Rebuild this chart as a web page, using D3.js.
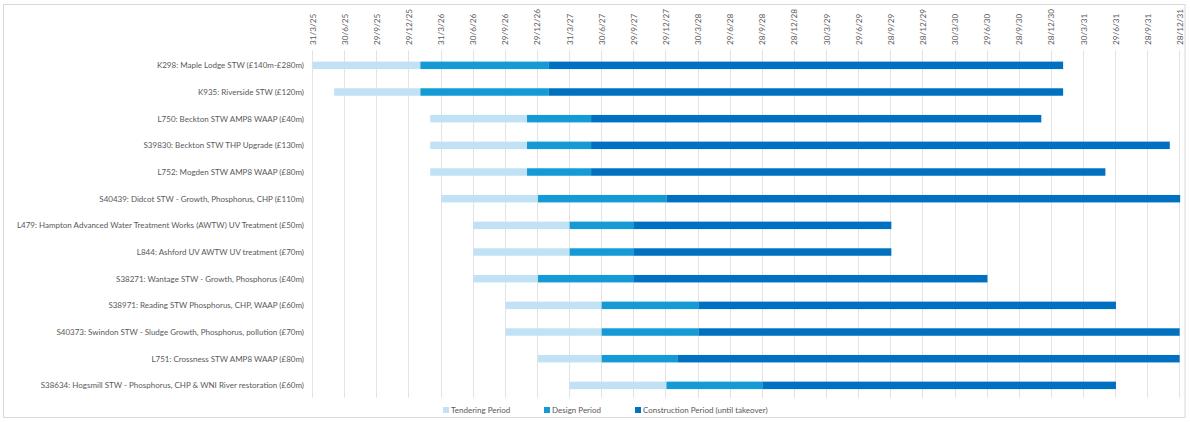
<!DOCTYPE html>
<html>
<head>
<meta charset="utf-8">
<script src="https://cdn.jsdelivr.net/npm/d3@7"></script>
<style>
  body { margin: 0; background: #fff; }
  text { font-family: Lato, "Open Sans", sans-serif; fill: #595959; }
</style>
</head>
<body>
<svg id="chart" width="1190" height="422"></svg>
<script>
// projects, top to bottom
var projects = [
  "K298: Maple Lodge STW (£140m-£280m)",
  "K935: Riverside STW (£120m)",
  "L750: Beckton STW AMP8 WAAP (£40m)",
  "S39830: Beckton STW THP Upgrade (£130m)",
  "L752: Mogden STW AMP8 WAAP (£80m)",
  "S40439: Didcot STW - Growth, Phosphorus, CHP (£110m)",
  "L479: Hampton Advanced Water Treatment Works (AWTW) UV Treatment (£50m)",
  "L844: Ashford UV  AWTW UV treatment (£70m)",
  "S38271: Wantage STW - Growth, Phosphorus (£40m)",
  "S38971: Reading STW Phosphorus, CHP, WAAP (£60m)",
  "S40373: Swindon STW - Sludge Growth, Phosphorus, pollution (£70m)",
  "L751: Crossness STW AMP8 WAAP (£80m)",
  "S38634: Hogsmill  STW - Phosphorus, CHP & WNI River restoration (£60m)"
];
var tenderStart = ["2025-04-01","2025-06-01","2026-03-01","2026-03-01","2026-03-01","2026-04-01","2026-07-01","2026-07-01","2026-07-01","2026-10-01","2026-10-01","2027-01-01","2027-04-01"];
var designStart = ["2026-02-01","2026-02-01","2026-12-01","2026-12-01","2026-12-01","2027-01-01","2027-04-01","2027-04-01","2027-01-01","2027-07-01","2027-07-01","2027-07-01","2028-01-01"];
var constructionStart = ["2027-02-01","2027-02-01","2027-06-01","2027-06-01","2027-06-01","2028-01-01","2027-10-01","2027-10-01","2027-10-01","2028-04-01","2028-04-01","2028-02-01","2028-10-01"];
var takeover = ["2031-02-01","2031-02-01","2030-12-01","2031-12-01","2031-06-01","2031-12-31","2029-10-01","2029-10-01","2030-07-01","2031-07-01","2031-12-29","2031-12-29","2031-07-01"];
var tickLabels = ["31/3/25","30/6/25","29/9/25","29/12/25","31/3/26","30/6/26","29/9/26","29/12/26",
  "31/3/27","30/6/27","29/9/27","29/12/27","30/3/28","29/6/28","28/9/28","28/12/28",
  "30/3/29","29/6/29","28/9/29","28/12/29","30/3/30","29/6/30","28/9/30","28/12/30",
  "30/3/31","29/6/31","28/9/31","28/12/31"];
var phases = ["Tendering Period", "Design Period", "Construction Period (until takeover)"];
var colors = ["#c1e2f5", "#149ad4", "#0070c0"];

var iso = d3.timeParse("%Y-%m-%d");
var dmy = d3.timeParse("%d/%m/%y");
var tickDates = tickLabels.map(dmy);

var svg = d3.select("#chart");

// chart border
svg.append("rect").attr("x", 3.5).attr("y", 4.5).attr("width", 1181.5).attr("height", 413)
  .attr("fill", "#fff").attr("stroke", "#d9d9d9");

var x = d3.scaleTime().domain([tickDates[0], tickDates[tickDates.length - 1]]).range([312.3, 1179.3]);
var y = d3.scaleBand().domain(projects).range([52, 398.7]).paddingInner(0.72).paddingOuter(0.36);

// gridlines
svg.append("g").selectAll("line").data(tickDates).enter().append("line")
  .attr("x1", function(d) { return Math.round(x(d)) + 0.5; })
  .attr("x2", function(d) { return Math.round(x(d)) + 0.5; })
  .attr("y1", 50).attr("y2", 398)
  .attr("stroke", "#e3e3e3").attr("stroke-width", 1);

// top tick labels
svg.append("g").selectAll("text").data(tickDates).enter().append("text")
  .attr("transform", function(d) { return "translate(" + (x(d) + 3.5) + ",45) rotate(-90)"; })
  .attr("text-anchor", "start")
  .style("font-size", "8.2px")
  .text(function(d, i) { return tickLabels[i]; });

// category labels
svg.append("g").selectAll("text").data(projects).enter().append("text")
  .attr("x", 304)
  .attr("y", function(d) { return y(d) + y.bandwidth() / 2 + 3; })
  .attr("text-anchor", "end")
  .style("font-size", "8px")
  .text(function(d) { return d; });

// bars
svg.append("clipPath").attr("id", "plot").append("rect")
  .attr("x", 300).attr("y", 40).attr("width", 880.5).attr("height", 370);

var segs = [];
projects.forEach(function(p, i) {
  var pts = [tenderStart[i], designStart[i], constructionStart[i], takeover[i]].map(iso);
  for (var k = 0; k < 3; k++) segs.push({ p: p, k: k, a: pts[k], b: pts[k + 1] });
});

svg.append("g").attr("clip-path", "url(#plot)").selectAll("rect").data(segs).enter().append("rect")
  .attr("x", function(d) { return x(d.a); })
  .attr("width", function(d) { return x(d.b) - x(d.a); })
  .attr("y", function(d) { return y(d.p); })
  .attr("height", y.bandwidth())
  .attr("fill", function(d) { return colors[d.k]; });

// legend
var legX = [443, 544, 635];
var leg = svg.append("g").selectAll("g").data(phases).enter().append("g")
  .attr("transform", function(d, i) { return "translate(" + legX[i] + ",407)"; });
leg.append("rect").attr("width", 6).attr("height", 6).attr("fill", function(d, i) { return colors[i]; });
leg.append("text").attr("x", 8).attr("y", 6).style("font-size", "8px").text(function(d) { return d; });
</script>
</body>
</html>
